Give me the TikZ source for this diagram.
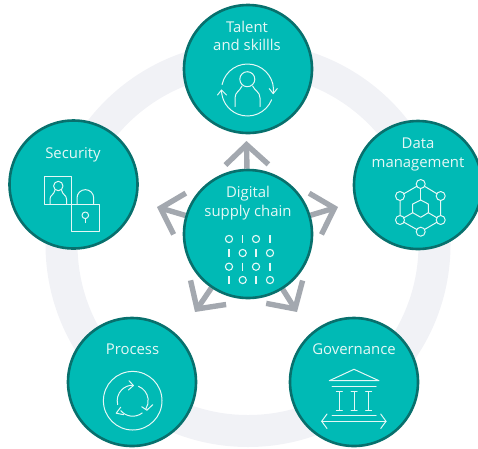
\documentclass[tikz,border=0pt]{standalone}
\usepackage{fontspec}
\setmainfont{Open Sans}
\usetikzlibrary{arrows.meta,backgrounds}
\definecolor{tealfill}{HTML}{00BAB5}
\definecolor{tealedge}{HTML}{08706D}
\definecolor{ringgrey}{HTML}{F1F2F6}
\definecolor{arrowgrey}{HTML}{A3A8AF}
\definecolor{icontext}{HTML}{E4F8F6}
\tikzset{
  topic/.style={circle,draw=tealedge,fill=tealfill,line width=2.6pt,minimum size=128pt,inner sep=0pt},
  caption/.style={anchor=base,text=icontext,inner sep=0pt,font=\fontsize{14.9}{16}\selectfont},
  link/.style={draw=arrowgrey,line width=5.4pt,-{Straight Barb[length=20pt,width=43pt,line width=5.4pt]}},
  icon/.style={draw=icontext,line width=1pt,line cap=round,line join=round},
  bit/.style={draw=icontext,line width=1.1pt}
}
\begin{document}
\begin{tikzpicture}[x=1pt,y=1pt]
\useasboundingbox (0,-448) rectangle (478,0);
\clip (0,-448) rectangle (478,0);
% nodes
\node[topic] (talent) at (248,-69) {};
\node[topic] (security) at (73.5,-184.5) {};
\node[topic] (data) at (418,-185) {};
\node[topic] (process) at (132,-382) {};
\node[topic] (governance) at (354,-382) {};
\node[topic] (core) at (248,-234) {};
\coordinate (tipT) at (246.5,-141);
\coordinate (tipL) at (157,-207);
\coordinate (tipR) at (338,-207);
\coordinate (tipBL) at (195,-312);
\coordinate (tipBR) at (297,-312);
\begin{scope}[on background layer]
  \draw[ringgrey,line width=32pt] (248,-244.5) circle (186.5);
  \draw[link] (core) -- (tipT);
  \draw[link] (core) -- (tipL);
  \draw[link] (core) -- (tipR);
  \draw[link] (core) -- (tipBL);
  \draw[link] (core) -- (tipBR);
\end{scope}
% captions
\node[caption] (c1a) at (247,-32) {Talent};
\node[caption] (c1b) at (247,-50) {and skillls};
\node[caption] (c2) at (73,-158) {Security};
\node[caption] (c3a) at (418,-148) {Data};
\node[caption] (c3b) at (418,-167) {management};
\node[caption] (c4) at (132.5,-354) {Process};
\node[caption] (c5) at (354,-354) {Governance};
\node[caption] (c6a) at (248,-197.5) {Digital};
\node[caption] (c6b) at (248,-216) {supply chain};
% talent icon
\draw[icon] (247.3,-79.2) circle (7.5);
\draw[icon] (235,-106.7) -- (235,-98) .. controls (235,-92) and (240,-91) .. (242,-86);
\draw[icon] (260,-106.7) -- (260,-98) .. controls (260,-92) and (255,-91) .. (252.6,-86);
\begin{scope}[shift={(247.5,-90)}]
  \draw[icon] (168:26) arc (168:-8:26);
  \draw[icon] (-22:26) arc (-22:-180:26);
  \draw[icon] (21.7,1.4) -- (25.7,-3.6) -- (29.7,1.4);
  \draw[icon] (-30,-5) -- (-26,0) -- (-21,-5);
\end{scope}
% bits icon
\foreach \y in {-239,-266.7}{
  \draw[bit] (229,\y) circle (3.6);
  \draw[bit] (242.7,\y+4) -- (242.7,\y-4);
  \draw[bit] (256,\y) circle (3.6);
  \draw[bit] (270,\y+4) -- (270,\y-4);
}
\foreach \y in {-253,-280}{
  \draw[bit] (229,\y+4) -- (229,\y-4);
  \draw[bit] (242.7,\y) circle (3.6);
  \draw[bit] (256,\y+4) -- (256,\y-4);
  \draw[bit] (270,\y) circle (3.6);
}
% security icon
\draw[icon] (44.3,-176.3) rectangle (71.7,-204);
\draw[icon] (58.3,-186) circle (4.7);
\draw[icon] (50,-204) -- (50,-199) .. controls (50,-195) and (54,-195) .. (55,-190);
\draw[icon] (66.5,-204) -- (66.5,-199) .. controls (66.5,-195) and (62.5,-195) .. (61.5,-190);
\draw[icon] (71.7,-204) rectangle (99.3,-231);
\draw[icon] (77,-204) -- (77,-198) arc (180:0:8.35) -- (93.7,-204);
\draw[icon] (85.3,-215.3) circle (3.3);
\draw[icon] (85.3,-218.6) -- (85.3,-222.7);
% data icon
\coordinate (dT) at (420.7,-184);
\coordinate (dUL) at (400,-196);
\coordinate (dUR) at (440.7,-196);
\coordinate (dLL) at (400,-220);
\coordinate (dLR) at (440.7,-220);
\coordinate (dB) at (420.7,-231.7);
\draw[icon] (dT) -- (dUR) -- (dLR) -- (dB) -- (dLL) -- (dUL) -- cycle;
\draw[icon] (420.7,-200) -- (428.3,-204) -- (428.3,-212.7) -- (420.7,-217.3) -- (412.7,-212.7) -- (412.7,-204) -- cycle;
\draw[icon] (dT) -- (420.7,-200);
\draw[icon] (dLL) -- (412.7,-212.7);
\draw[icon] (dLR) -- (428.3,-212.7);
\foreach \p in {dT,dUL,dUR,dLL,dLR,dB}
  \draw[icon,fill=tealfill] (\p) circle (4.5);
% process icon
\begin{scope}[shift={(132.7,-400.7)}]
  \draw[icon] (0,0) circle (29.3);
  \draw[icon] (195:15.5) arc (195:90:15.5);
  \draw[icon] (-3.7,20) -- (0.7,15.2) -- (-4.3,10.7);
  \draw[icon] (68:15.5) arc (68:-32:15.5);
  \draw[icon] (9,-6) -- (14.2,-9.5) -- (20,-4);
  \draw[icon] (-52:15.5) arc (-52:-140:15.5);
  \draw[icon] (-12,-6.5) -- (-16.5,-12.5) -- (-9,-14);
\end{scope}
% governance icon
\draw[icon] (329.3,-380.7) -- (354,-369.3) -- (379,-380.7) -- cycle;
\draw[icon] (332,-386) -- (376,-386);
\foreach \x in {339.3,354,368.7}{
  \draw[icon] (\x,-391.7) -- (\x,-410);
  \draw[icon] (\x-3,-391.7) -- (\x+3,-391.7);
  \draw[icon] (\x-3,-410) -- (\x+3,-410);
}
\draw[icon] (332,-415.3) -- (376,-415.3);
\draw[icon] (321.7,-421.3) -- (386,-421.3);
\draw[icon] (327,-414) -- (321.7,-421.3) -- (327,-428.5);
\draw[icon] (380.7,-414) -- (386,-421.3) -- (380.7,-428.5);
\end{tikzpicture}
\end{document}
